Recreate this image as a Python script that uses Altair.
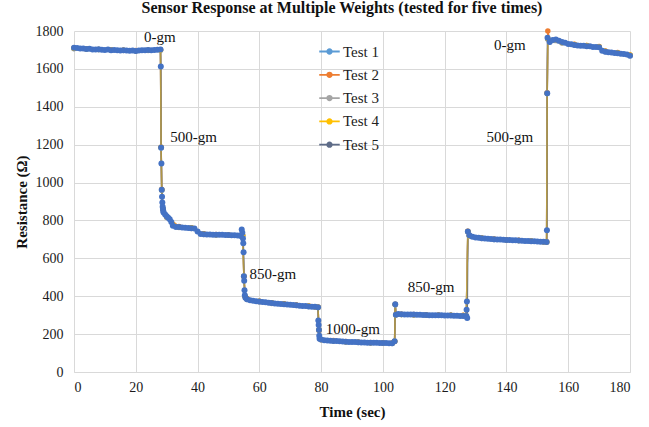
import altair as alt
import pandas as pd

SERIES = ["Test 1", "Test 2", "Test 3", "Test 4", "Test 5"]
LINE_COLORS = ["#5B9BD5", "#ED7D31", "#A5A5A5", "#FFC000", "#5E6C88"]
MARKER_5 = "#4472C4"

# Tests 1-4 share a coarser time base
TIME_1_4 = [0, 4, 8, 12, 16, 20, 24, 28, 28.2, 28.4, 28.8,
            30, 34, 38, 42, 46, 50, 54, 54.6, 55, 55.4,
            56, 60, 64, 68, 72, 76, 78, 79, 79.3,
            80, 84, 88, 92, 96, 100, 103, 103.8, 104, 104.2,
            106, 110, 114, 118, 122, 126, 127, 127.5,
            128, 132, 136, 140, 144, 148, 152, 153, 153.2, 153.4,
            154, 158, 162, 166, 170, 172, 176, 180]
TEST_1 = [1708, 1705, 1702, 1700, 1698, 1696, 1698, 1700, 1183, 960, 861,
          818, 765, 760, 728, 725, 723, 720, 719, 506, 399,
          385, 372, 364, 358, 352, 347, 344, 341, 223,
          171, 165, 160, 157, 155, 153, 152, 163, 355, 302,
          304, 302, 301, 300, 299, 298, 296, 740,
          718, 706, 700, 697, 694, 691, 687, 686, 1470, 1758,
          1745, 1738, 1728, 1722, 1716, 1692, 1684, 1672]
TEST_2 = [1710, 1706, 1703, 1701, 1699, 1697, 1699, 1701, 1187, 963, 859,
          822, 768, 762, 730, 726, 724, 721, 721, 504, 398,
          388, 374, 366, 360, 354, 349, 345, 343, 221,
          172, 166, 161, 158, 156, 154, 153, 161, 358, 303,
          305, 303, 302, 301, 300, 299, 297, 743,
          720, 708, 702, 698, 695, 692, 688, 687, 1474, 1800,
          1748, 1740, 1730, 1724, 1718, 1694, 1686, 1674]
TEST_3 = [1706, 1704, 1701, 1699, 1697, 1695, 1697, 1699, 1184, 961, 860,
          815, 763, 758, 726, 724, 722, 719, 720, 505, 398,
          383, 370, 362, 357, 351, 346, 343, 342, 222,
          170, 164, 159, 156, 154, 152, 151, 162, 356, 301,
          303, 301, 300, 299, 298, 297, 295, 741,
          716, 705, 699, 696, 693, 690, 686, 685, 1471, 1756,
          1742, 1736, 1726, 1720, 1714, 1690, 1682, 1670]
TEST_4 = [1709, 1706, 1703, 1700, 1698, 1696, 1698, 1700, 1186, 962, 860,
          820, 766, 761, 729, 725, 723, 720, 720, 505, 399,
          386, 373, 365, 359, 353, 348, 344, 342, 222,
          171, 165, 160, 157, 155, 153, 152, 162, 357, 302,
          304, 302, 301, 300, 299, 298, 296, 742,
          719, 707, 701, 697, 694, 691, 687, 686, 1472, 1760,
          1746, 1739, 1729, 1723, 1717, 1693, 1685, 1673]

TIME_5 = [0, 1, 2, 3, 4, 5, 6, 7, 8, 9, 10, 11, 12, 13, 14, 15, 16, 17, 18, 19,
          20, 21, 22, 23, 24, 25, 26, 27, 28,
          28.1, 28.2, 28.3, 28.4, 28.5, 28.6, 28.7, 28.8, 28.9,
          29, 29.5, 30, 30.5, 31, 31.5, 32,
          33, 34, 35, 36, 37, 38, 39,
          40, 41, 42, 43, 44, 45, 46, 47, 48, 49, 50, 51, 52, 53, 54,
          54.3, 54.5, 54.7, 54.8, 54.9, 55, 55.1, 55.2, 55.3, 55.5,
          56, 57, 58, 59, 60, 61, 62, 63, 64, 65, 66, 67, 68, 69, 70, 71, 72,
          73, 74, 75, 76, 77, 78, 79,
          79.1, 79.2, 79.3, 79.4, 79.5,
          80, 81, 82, 83, 84, 85, 86, 87, 88, 89, 90, 91, 92, 93, 94, 95, 96,
          97, 98, 99, 100, 101, 102, 103,
          103.8, 104, 104.2,
          105, 106, 107, 108, 109, 110, 111, 112, 113, 114, 115, 116, 117, 118,
          119, 120, 121, 122, 123, 124, 125, 126, 127,
          127.1, 127.2, 127.3, 127.5,
          128, 129, 130, 131, 132, 133, 134, 135, 136, 137, 138, 139, 140, 141,
          142, 143, 144, 145, 146, 147, 148, 149, 150, 151, 152, 153,
          153.1, 153.2, 153.3,
          154, 155, 156, 157, 158, 159, 160, 161, 162, 163, 164, 165, 166, 167,
          168, 169, 170, 171, 172, 173, 174, 175, 176, 177, 178, 179, 180]
TEST_5 = [1712, 1710, 1708, 1707, 1705, 1706, 1703, 1702, 1704, 1701, 1700, 1702,
          1699, 1700, 1698, 1697, 1699, 1697, 1696, 1697, 1695, 1697, 1698, 1699,
          1700, 1698, 1700, 1701, 1702,
          1612, 1185, 1100, 962, 925, 895, 872, 860, 850,
          842, 832, 822, 814, 806, 792, 772,
          766, 765, 763, 762, 760, 759, 758,
          742, 728, 727, 726, 726, 725, 725, 724, 724, 723, 723, 722, 722, 720, 718,
          752, 735, 705, 680, 632, 505, 482, 432, 405, 392,
          384, 379, 376, 374, 372, 370, 368, 366, 364, 362, 360, 359, 358, 356,
          355, 354, 352, 350, 349, 348, 346, 345, 344, 342,
          272, 248, 222, 192, 176,
          171, 168, 166, 165, 164, 163, 162, 161, 160, 159, 158, 158, 157, 156,
          156, 155, 155, 154, 154, 153, 153, 153, 152, 152,
          162, 357, 302,
          306, 305, 304, 304, 303, 303, 302, 302, 301, 301, 300, 300, 300, 299,
          299, 298, 298, 298, 297, 297, 296, 296, 295,
          328, 372, 285, 742,
          722, 714, 710, 708, 706, 705, 704, 702, 701, 700, 699, 698, 697, 697,
          696, 695, 694, 693, 692, 691, 690, 690, 689, 688, 687, 686,
          748, 1472, 1765,
          1742, 1752, 1755, 1748, 1742, 1738, 1732, 1730, 1726, 1724, 1722, 1722,
          1720, 1719, 1716, 1716, 1714, 1696, 1690, 1688, 1686, 1684, 1682, 1680,
          1678, 1676, 1670]

X_TICKS = [0, 20, 40, 60, 80, 100, 120, 140, 160, 180]
Y_TICKS = [0, 200, 400, 600, 800, 1000, 1200, 1400, 1600, 1800]

LABEL_TEXT = ["0-gm", "500-gm", "850-gm", "1000-gm", "850-gm", "500-gm", "0-gm"]
LABEL_X = [27.8, 38.7, 64.4, 90.3, 115.6, 141.1, 141.1]
LABEL_Y = [1768, 1240, 517, 227, 449, 1240, 1726]

rows = []
for name, vals in zip(SERIES[:4], [TEST_1, TEST_2, TEST_3, TEST_4]):
    for t, v in zip(TIME_1_4, vals):
        rows.append({"series": name, "time": t, "value": v})
for t, v in zip(TIME_5, TEST_5):
    rows.append({"series": "Test 5", "time": t, "value": v})
df = pd.DataFrame(rows)
labels = pd.DataFrame({"text": LABEL_TEXT, "time": LABEL_X, "value": LABEL_Y})

FONT = "Liberation Serif"
SYMBOL = "M-1,0H1M0.22,0A0.22,0.22,0,1,1,-0.22,0A0.22,0.22,0,1,1,0.22,0"

xaxis = alt.Axis(title="Time (sec)", values=X_TICKS, domain=True,
                 domainColor="#D9D9D9", labelPadding=8, titlePadding=10,
                 labelOverlap=False, format="d", labelFont=FONT, labelFontSize=14,
                 labelColor="#1a1a1a", titleFont=FONT, titleFontSize=15,
                 titleFontWeight="bold", titleColor="#111", grid=True,
                 gridColor="#D9D9D9", ticks=False)
yaxis = alt.Axis(title="Resistance (Ω)", values=Y_TICKS, domain=False,
                 labelPadding=11, titlePadding=6, labelOverlap=False, format="d",
                 labelFont=FONT, labelFontSize=14, labelColor="#1a1a1a",
                 titleFont=FONT, titleFontSize=15, titleFontWeight="bold",
                 titleColor="#111", grid=True, gridColor="#D9D9D9", ticks=False)
xscale = alt.Scale(domain=[0, 180], nice=False)
yscale = alt.Scale(domain=[0, 1800], nice=False)
xenc = alt.X("time:Q", scale=xscale, axis=xaxis)
yenc = alt.Y("value:Q", scale=yscale, axis=yaxis)
cscale = alt.Scale(domain=SERIES, range=LINE_COLORS)
color = alt.Color("series:N", scale=cscale,
                  legend=alt.Legend(title=None, orient="none", legendX=244, legendY=9,
                                    symbolType=SYMBOL, symbolSize=420,
                                    symbolStrokeWidth=1.8, symbolOpacity=1,
                                    labelFont=FONT, labelFontSize=15,
                                    labelColor="#222", rowPadding=3.3, padding=0,
                                    labelOffset=2))

base = alt.Chart(df)
lines_a = base.transform_filter(alt.datum.series != "Test 4").mark_line(
    strokeWidth=1.5).encode(x=xenc, y=yenc, color=color, order="time:Q")
lines_b = base.transform_filter(alt.datum.series == "Test 4").mark_line(
    strokeWidth=1.5, opacity=0.5).encode(x=xenc, y=yenc, color=color, order="time:Q")
pts_a = base.transform_filter(alt.datum.series != "Test 5").mark_circle(
    size=30, opacity=1).encode(x=xenc, y=yenc,
                               color=alt.Color("series:N", scale=cscale, legend=None))
pts_b = base.transform_filter(alt.datum.series == "Test 5").mark_circle(
    size=36, opacity=1, color=MARKER_5).encode(x=xenc, y=yenc)
text = alt.Chart(labels).mark_text(font=FONT, fontSize=15, color="#111").encode(
    x=xenc, y=yenc, text="text:N")

chart = alt.layer(lines_a, lines_b, pts_a, pts_b, text).properties(
    width=556, height=341,
    title=alt.TitleParams("Sensor Response at Multiple Weights (tested for five times)",
                          font=FONT, fontSize=16, fontWeight="bold", color="#111",
                          anchor="middle", dx=-10, offset=8),
    autosize=alt.AutoSizeParams(type="none"),
    padding={"left": 74, "top": 31, "right": 19, "bottom": 55},
).configure(font=FONT).configure_view(stroke=None).configure_axis(
    labelFont=FONT, titleFont=FONT
)

chart.save("out.html", embed_options={"renderer": "svg", "actions": False})
